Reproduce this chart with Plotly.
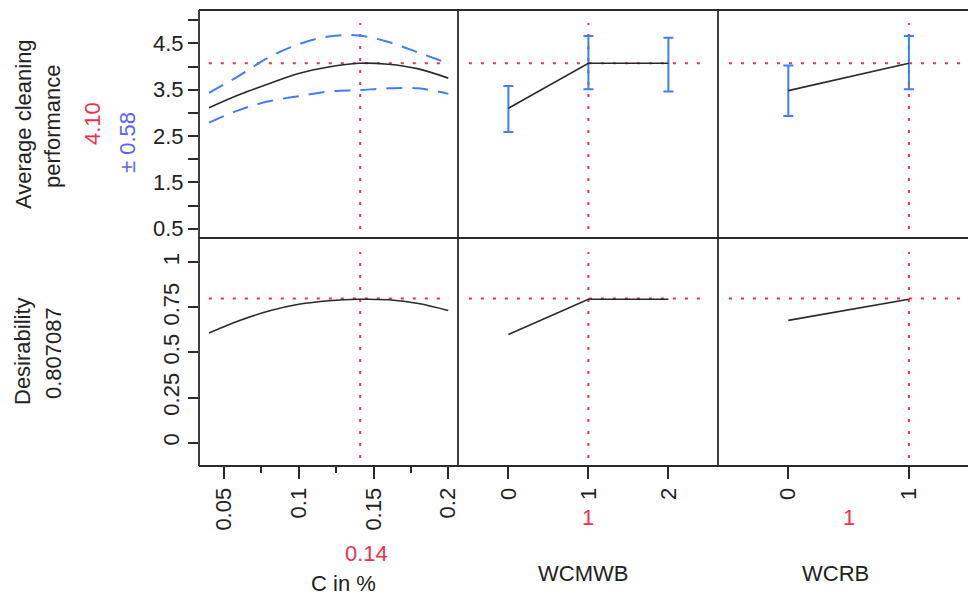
import plotly.graph_objects as go

# ---------------- data read from the profiler ----------------
c_pct = [0.04, 0.06, 0.08, 0.10, 0.12, 0.14, 0.16, 0.18, 0.20]
c_mean = [3.11, 3.39, 3.63, 3.85, 3.99, 4.07, 4.05, 3.95, 3.75]
c_upper = [3.43, 3.80, 4.20, 4.48, 4.65, 4.67, 4.53, 4.30, 4.07]
c_lower = [2.79, 3.06, 3.25, 3.36, 3.46, 3.49, 3.53, 3.53, 3.41]
c_desir = [0.608, 0.676, 0.730, 0.767, 0.787, 0.795, 0.792, 0.772, 0.733]

wcmwb_levels = [0, 1, 2]
wcmwb_mean = [3.10, 4.07, 4.07]
wcmwb_upper = [3.58, 4.66, 4.62]
wcmwb_lower = [2.59, 3.51, 3.46]
wcmwb_desir = [0.600, 0.795, 0.795]

wcrb_levels = [0, 1]
wcrb_mean = [3.48, 4.07]
wcrb_upper = [4.02, 4.66]
wcrb_lower = [2.93, 3.51]
wcrb_desir = [0.678, 0.795]

current_c = 0.1411
current_wcmwb = 1
current_wcrb = 1
current_resp = 4.07
current_desir = 0.80

resp_ticks = [0.5, 1.5, 2.5, 3.5, 4.5]
resp_ticktext = ["0.5", "1.5", "2.5", "3.5", "4.5"]
resp_minor = [1, 2, 3, 4, 5]
des_ticks = [0, 0.25, 0.5, 0.75, 1]
des_ticktext = ["0", "0.25", "0.5", "0.75", "1"]
c_ticks = [0.05, 0.1, 0.15, 0.2]
c_ticktext = ["0.05", "0.1", "0.15", "0.2"]
c_minor = [0.075, 0.125, 0.175]

# ---------------- styling ----------------
W, H = 968, 599
FONT = "Liberation Sans, Arial, sans-serif"
FS = 22
TXT = "#222222"
RED = "#F2304E"
BLUE = "#3F7EF5"
BLUETXT = "#5864F5"
BLACK = "#2a2a2a"

def px(x):
    return x / W

def py(y):
    return 1 - y / H

colL, colA, colB, colR = 199, 458, 718, 968
rowT, rowM, rowB = 10, 238, 466
dom_c1 = [px(colL), px(colA)]
dom_c2 = [px(colA), px(colB)]
dom_c3 = [px(colB), 1.0]
dom_r1 = [py(rowM), py(rowT)]
dom_r2 = [py(rowB), py(rowM)]

resp_range = [0.30, 5.22]
des_range = [-0.13, 1.135]
c_range = [0.0333, 0.2065]
wcmwb_range = [-0.63, 2.62]
wcrb_range = [-0.583, 1.49]

fig = go.Figure()

# row 1, col 1
fig.add_trace(go.Scatter(x=c_pct, y=c_upper, mode="lines", xaxis="x", yaxis="y",
                         line=dict(color=BLUE, width=2, dash="16px,10px", shape="spline")))
fig.add_trace(go.Scatter(x=c_pct, y=c_lower, mode="lines", xaxis="x", yaxis="y",
                         line=dict(color=BLUE, width=2, dash="16px,10px", shape="spline")))
fig.add_trace(go.Scatter(x=c_pct, y=c_mean, mode="lines", xaxis="x", yaxis="y",
                         line=dict(color=BLACK, width=1.6, shape="spline")))

# row 1, col 2
fig.add_trace(go.Scatter(
    x=wcmwb_levels, y=wcmwb_mean, mode="lines", xaxis="x2", yaxis="y2",
    line=dict(color=BLACK, width=1.6),
    error_y=dict(type="data", symmetric=False,
                 array=[u - m for u, m in zip(wcmwb_upper, wcmwb_mean)],
                 arrayminus=[m - l for m, l in zip(wcmwb_mean, wcmwb_lower)],
                 color=BLUE, thickness=2, width=5)))

# row 1, col 3
fig.add_trace(go.Scatter(
    x=wcrb_levels, y=wcrb_mean, mode="lines", xaxis="x3", yaxis="y3",
    line=dict(color=BLACK, width=1.6),
    error_y=dict(type="data", symmetric=False,
                 array=[u - m for u, m in zip(wcrb_upper, wcrb_mean)],
                 arrayminus=[m - l for m, l in zip(wcrb_mean, wcrb_lower)],
                 color=BLUE, thickness=2, width=5)))

# row 2
fig.add_trace(go.Scatter(x=c_pct, y=c_desir, mode="lines", xaxis="x4", yaxis="y4",
                         line=dict(color=BLACK, width=1.6, shape="spline")))
fig.add_trace(go.Scatter(x=wcmwb_levels, y=wcmwb_desir, mode="lines", xaxis="x5", yaxis="y5",
                         line=dict(color=BLACK, width=1.6)))
fig.add_trace(go.Scatter(x=wcrb_levels, y=wcrb_desir, mode="lines", xaxis="x6", yaxis="y6",
                         line=dict(color=BLACK, width=1.6)))

tickfont = dict(family=FONT, size=FS, color=TXT)

def xax(domain, anchor, rng, **kw):
    d = dict(domain=domain, anchor=anchor, range=rng, showgrid=False, zeroline=False,
             showline=False, showticklabels=False, ticks="", fixedrange=True, automargin=False)
    d.update(kw)
    return d

def yax(domain, anchor, rng, **kw):
    d = dict(domain=domain, anchor=anchor, range=rng, showgrid=False, zeroline=False,
             showline=False, showticklabels=False, ticks="", fixedrange=True, automargin=False)
    d.update(kw)
    return d

bottom_tick = dict(showticklabels=True, ticks="outside", ticklen=12, tickwidth=1.6,
                   tickcolor=BLACK, tickangle=-90, tickfont=tickfont, tickmode="array")

layout = dict(
    width=W, height=H,
    margin=dict(l=0, r=0, t=0, b=0),
    paper_bgcolor="white", plot_bgcolor="white",
    showlegend=False,
    xaxis=xax(dom_c1, "y", c_range),
    xaxis2=xax(dom_c2, "y2", wcmwb_range),
    xaxis3=xax(dom_c3, "y3", wcrb_range),
    xaxis4=xax(dom_c1, "y4", c_range, tickvals=c_ticks, ticktext=c_ticktext,
               minor=dict(tickmode="array", tickvals=c_minor, ticks="outside", ticklen=6,
                          tickwidth=1.6, tickcolor=BLACK),
               **bottom_tick),
    xaxis5=xax(dom_c2, "y5", wcmwb_range, tickvals=wcmwb_levels,
               ticktext=[str(v) for v in wcmwb_levels], **bottom_tick),
    xaxis6=xax(dom_c3, "y6", wcrb_range, tickvals=wcrb_levels,
               ticktext=[str(v) for v in wcrb_levels], **bottom_tick),
    yaxis=yax(dom_r1, "x", resp_range, showticklabels=True, ticks="outside", ticklen=10,
              tickwidth=1.6, tickcolor=BLACK, tickfont=tickfont, tickmode="array",
              tickvals=resp_ticks, ticktext=resp_ticktext,
              minor=dict(tickmode="array", tickvals=resp_minor, ticks="outside", ticklen=10,
                         tickwidth=1.6, tickcolor=BLACK)),
    yaxis2=yax(dom_r1, "x2", resp_range),
    yaxis3=yax(dom_r1, "x3", resp_range),
    yaxis4=yax(dom_r2, "x4", des_range, showticklabels=True, ticks="outside", ticklen=10,
               tickwidth=1.6, tickcolor=BLACK, tickfont=tickfont, tickmode="array",
               tickvals=des_ticks, ticktext=des_ticktext, tickangle=-90),
    yaxis5=yax(dom_r2, "x5", des_range),
    yaxis6=yax(dom_r2, "x6", des_range),
)
fig.update_layout(**layout)

# ---------------- panel borders ----------------
shapes = []
bl = dict(color=BLACK, width=1.8)
for xv in (colL, colA, colB):
    shapes.append(dict(type="line", xref="paper", yref="paper", x0=px(xv), x1=px(xv),
                       y0=py(rowB), y1=py(rowT), line=bl, layer="above"))
for yv in (rowT, rowM, rowB):
    shapes.append(dict(type="line", xref="paper", yref="paper", x0=px(colL), x1=1.0,
                       y0=py(yv), y1=py(yv), line=bl, layer="above"))

# ---------------- red reference lines (behind the traces) ----------------
rl = dict(color=RED, width=2, dash="3px,9px")
panels = [("x", "y", current_c, current_resp, 0.038, 0.965),
          ("x2", "y2", current_wcmwb, current_resp, 0.042, 0.94),
          ("x3", "y3", current_wcrb, current_resp, 0.044, 0.976),
          ("x4", "y4", current_c, current_desir, 0.038, 0.965),
          ("x5", "y5", current_wcmwb, current_desir, 0.042, 0.94),
          ("x6", "y6", current_wcrb, current_desir, 0.044, 0.976)]
for i, (xa, ya, xv, yv, h0, h1) in enumerate(panels):
    v0, v1 = (0.04, 0.943) if i < 3 else (0.035, 0.939)
    shapes.append(dict(type="line", xref=xa, yref=ya + " domain", x0=xv, x1=xv,
                       y0=v0, y1=v1, line=rl, layer="below"))
    shapes.append(dict(type="line", xref=xa + " domain", yref=ya, x0=h0, x1=h1,
                       y0=yv, y1=yv, line=rl, layer="below"))
fig.update_layout(shapes=shapes)

# ---------------- text labels ----------------
def ann(text, x, y, color=TXT, angle=0):
    return dict(text=text, x=px(x), y=py(y), xref="paper", yref="paper", showarrow=False,
                xanchor="center", yanchor="middle", textangle=angle,
                font=dict(family=FONT, size=FS, color=color))

annotations = [
    ann("Average cleaning", 23, 124, angle=-90),
    ann("performance", 52, 126, angle=-90),
    ann("4.10", 92, 124, color=RED, angle=-90),
    ann("± 0.58", 128, 143, color=BLUETXT, angle=-90),
    ann("Desirability", 22, 351, angle=-90),
    ann("0.807087", 53, 353, angle=-90),
    ann("0.14", 366, 553, color=RED),
    ann("C in %", 343, 583),
    ann("1", 588, 517, color=RED),
    ann("WCMWB", 583, 573),
    ann("1", 849, 517, color=RED),
    ann("WCRB", 835, 573),
]
fig.update_layout(annotations=annotations)

fig.write_html("out.html")
